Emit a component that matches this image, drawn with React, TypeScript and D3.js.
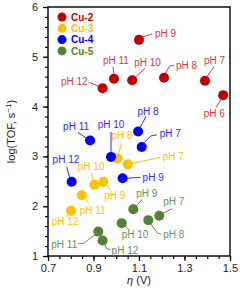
import React, { useEffect, useRef } from "react";
import * as d3 from "d3";

// overpotential (V) vs log(TOF) for each complex, one point per pH
const seriesNames = ["Cu-2", "Cu-3", "Cu-4", "Cu-5"];

const cu2Ph = [12, 11, 9, 10, 8, 7, 6];
const cu2Eta = [0.94, 0.99, 1.10, 1.07, 1.21, 1.39, 1.47];
const cu2Tof = [4.37, 4.56, 5.34, 4.53, 4.58, 4.52, 4.23];

const cu3Ph = [8, 7, 10, 9, 11, 12];
const cu3Eta = [1.005, 1.05, 0.904, 0.943, 0.848, 0.801];
const cu3Tof = [2.96, 2.84, 2.43, 2.49, 2.22, 1.91];

const cu4Ph = [11, 10, 8, 7, 12, 9];
const cu4Eta = [0.885, 0.977, 1.096, 1.112, 0.804, 1.028];
const cu4Tof = [3.32, 2.99, 3.5, 3.19, 2.49, 2.56];

const cu5Ph = [9, 10, 11, 12, 8, 7];
const cu5Eta = [1.075, 1.024, 0.921, 0.94, 1.141, 1.189];
const cu5Tof = [1.94, 1.66, 1.49, 1.31, 1.72, 1.81];

const xTicks = [0.7, 0.9, 1.1, 1.3, 1.5];
const yTicks = [1, 2, 3, 4, 5, 6];

// label placement: text offset from the marker, anchor, and leader polyline
type Lbl = { dx: number; dy: number; a: string; line: number[][] };
const labelLayout: Lbl[][] = [
  [
    { dx: -15, dy: -3, a: "end", line: [[-14, -6], [-4, -2]] },
    { dx: -11, dy: -15, a: "start", line: [[-1, -12], [0, -5]] },
    { dx: 16, dy: -2.5, a: "start", line: [[4, -3], [13, -6]] },
    { dx: 2, dy: -14.5, a: "start", line: [[3, -3], [13, -12]] },
    { dx: 12, dy: -8.5, a: "start", line: [[1, -4], [6, -12], [10, -12]] },
    { dx: 9.5, dy: -17, a: "middle", line: [[2, -4], [9, -14]] },
    { dx: -8.8, dy: 21.5, a: "middle", line: [[-2, 4], [-7, 12]] },
  ],
  [
    { dx: 4.7, dy: -19, a: "middle", line: [[1, -4], [4, -15]] },
    { dx: 35, dy: -4, a: "start", line: [[4, -1], [33, -7]] },
    { dx: -3.3, dy: -15, a: "middle", line: [[-3, -11], [-1, -4]] },
    { dx: 1, dy: 17.5, a: "start", line: [[3, 3], [7, 8]] },
    { dx: -2, dy: 18.5, a: "start", line: [[3, 3], [7, 8]] },
    { dx: -6, dy: 14.5, a: "middle", line: [[-2, 3], [-5, 6]] },
  ],
  [
    { dx: -14, dy: -10.5, a: "middle", line: [[-12, -8], [-3, -2]] },
    { dx: 0, dy: -29, a: "middle", line: [[0, -25], [0, -4]] },
    { dx: 10, dy: -17, a: "middle", line: [[2, -4], [8, -15]] },
    { dx: 18, dy: -10, a: "start", line: [[2, -4], [9, -11], [15, -12]] },
    { dx: -5.7, dy: -19, a: "middle", line: [[-5, -15], [-2, -4]] },
    { dx: 20, dy: 2.5, a: "start", line: [[4, 0], [18, -1]] },
  ],
  [
    { dx: 3, dy: -12.5, a: "start", line: [[3, -3], [9, -10]] },
    { dx: 0, dy: 14.5, a: "start", line: [[3, 3], [8, 7]] },
    { dx: -21, dy: 16, a: "end", line: [[-20, 12], [-15, 12], [-3, 3]] },
    { dx: 9, dy: 13, a: "start", line: [[2, 3], [4, 8], [8, 9]] },
    { dx: 15, dy: 17.5, a: "start", line: [[2, 3], [9, 13], [13, 14]] },
    { dx: 4, dy: -10.5, a: "start", line: [[3, -2], [13, -7]] },
  ],
];

const dotColors = ["#c00000", "#ffc000", "#0000ff", "#548235"];
const textColors = ["#d23a3e", "#ffc000", "#2a2aff", "#68924c"];

const App = () => {
  const chartRef = useRef<SVGSVGElement>(null);

  useEffect(() => {
    drawChart();
  }, []);

  const drawChart = () => {
    const root = d3.select(chartRef.current);
    root.selectAll("*").remove();

    const font = "'Liberation Sans', Arial, sans-serif";
    const left = 48, right = 230, top = 7, bottom = 256;

    const x = d3.scaleLinear().domain([0.7, 1.5]).range([left, right]);
    const y = d3.scaleLinear().domain([1, 6]).range([bottom, top]);

    const svg = root.append("g").style("font-family", font);

    // minor ticks
    svg.append("g")
      .attr("transform", `translate(0,${bottom})`)
      .call(d3.axisBottom(x).tickValues(d3.range(0.7, 1.5001, 0.05)).tickSize(3).tickFormat(() => ""))
      .call(g => g.select(".domain").remove())
      .selectAll("line").attr("stroke", "#000").attr("stroke-width", 1.2);
    svg.append("g")
      .attr("transform", `translate(${left},0)`)
      .call(d3.axisLeft(y).tickValues(d3.range(1, 6.001, 0.2)).tickSize(3).tickFormat(() => ""))
      .call(g => g.select(".domain").remove())
      .selectAll("line").attr("stroke", "#000").attr("stroke-width", 1.2);

    // major ticks
    const xAxis = svg.append("g")
      .attr("transform", `translate(0,${bottom})`)
      .call(d3.axisBottom(x).tickValues(xTicks).tickSize(5).tickPadding(3).tickFormat(d3.format(".1f")));
    xAxis.select(".domain").remove();
    xAxis.selectAll("line").attr("stroke", "#000").attr("stroke-width", 1.2);
    xAxis.selectAll("text").attr("font-size", 11).attr("fill", "#222").style("font-family", font);

    const yAxis = svg.append("g")
      .attr("transform", `translate(${left},0)`)
      .call(d3.axisLeft(y).tickValues(yTicks).tickSize(5).tickPadding(5).tickFormat(d3.format("d")));
    yAxis.select(".domain").remove();
    yAxis.selectAll("line").attr("stroke", "#000").attr("stroke-width", 1.2);
    yAxis.selectAll("text").attr("font-size", 11).attr("fill", "#222").style("font-family", font);

    // frame
    svg.append("rect")
      .attr("x", left).attr("y", top)
      .attr("width", right - left).attr("height", bottom - top)
      .attr("fill", "none").attr("stroke", "#111").attr("stroke-width", 1.5);

    // axis titles
    const xt = svg.append("text")
      .attr("x", (left + right) / 2).attr("y", 284)
      .attr("text-anchor", "middle").attr("font-size", 11).attr("fill", "#222");
    xt.append("tspan").attr("font-style", "italic").text("η");
    xt.append("tspan").text(" (V)");

    const yt = svg.append("text")
      .attr("transform", `translate(15,${(top + bottom) / 2}) rotate(-90)`)
      .attr("text-anchor", "middle").attr("font-size", 11).attr("fill", "#222");
    yt.append("tspan").text("log(TOF, s");
    yt.append("tspan").attr("dy", -4).attr("font-size", 8).text("−1");
    yt.append("tspan").attr("dy", 4).text(")");

    const series = [
      { ph: cu2Ph, eta: cu2Eta, tof: cu2Tof },
      { ph: cu3Ph, eta: cu3Eta, tof: cu3Tof },
      { ph: cu4Ph, eta: cu4Eta, tof: cu4Tof },
      { ph: cu5Ph, eta: cu5Eta, tof: cu5Tof },
    ];

    const line = d3.line();

    series.forEach((s, si) => {
      const g = svg.append("g");
      const pts = s.ph.map((ph, i) => ({ ph, px: x(s.eta[i]), py: y(s.tof[i]), l: labelLayout[si][i] }));

      g.selectAll("path.leader")
        .data(pts)
        .enter().append("path")
        .attr("class", "leader")
        .attr("d", d => line(d.l.line.map(p => [d.px + p[0], d.py + p[1]] as [number, number])))
        .attr("fill", "none")
        .attr("stroke", textColors[si])
        .attr("stroke-width", 1);

      g.selectAll("circle")
        .data(pts)
        .enter().append("circle")
        .attr("cx", d => d.px)
        .attr("cy", d => d.py)
        .attr("r", 5)
        .attr("fill", dotColors[si]);

      g.selectAll("text")
        .data(pts)
        .enter().append("text")
        .attr("x", d => d.px + d.l.dx)
        .attr("y", d => d.py + d.l.dy)
        .attr("text-anchor", d => d.l.a)
        .attr("font-size", 10)
        .attr("fill", textColors[si])
        .text(d => `pH ${d.ph}`);
    });

    // legend
    const legend = svg.append("g").attr("transform", "translate(62,17)");
    seriesNames.forEach((name, i) => {
      legend.append("circle")
        .attr("cx", 0).attr("cy", i * 11.3)
        .attr("r", 4.5).attr("fill", dotColors[i]);
      legend.append("text")
        .attr("x", 9).attr("y", i * 11.3 + 3.6)
        .attr("font-size", 10).attr("font-weight", "bold")
        .attr("fill", dotColors[i])
        .text(name);
    });
  };

  return (
    <svg
      ref={chartRef}
      width={240}
      height={294}
      style={{ position: "absolute", left: 0, top: 0, background: "#fff" }}
    />
  );
};

export default App;
